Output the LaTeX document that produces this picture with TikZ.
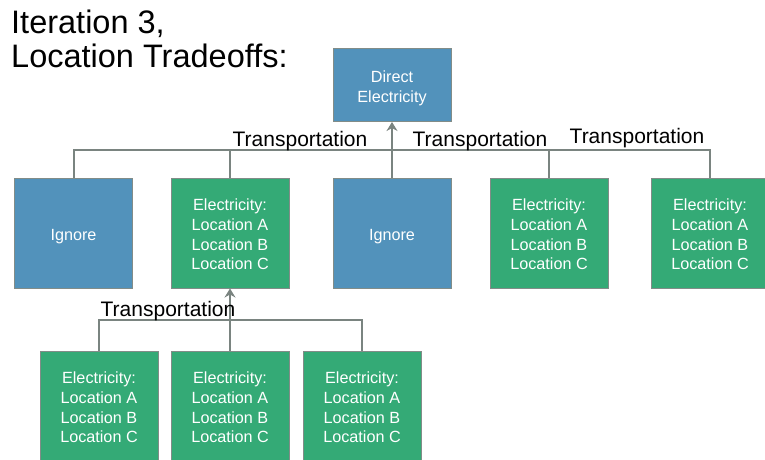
\documentclass[tikz,border=0pt]{standalone}
\usepackage{fontspec}
\setmainfont{Liberation Sans}
\usetikzlibrary{arrows.meta}
\definecolor{boxblue}{RGB}{82,146,187}
\definecolor{boxgreen}{RGB}{52,170,118}
\definecolor{edgegray}{RGB}{130,140,136}
\definecolor{linkgray}{RGB}{122,132,128}
\tikzset{
  box/.style={rectangle, draw=edgegray, line width=1pt, text=white,
    minimum width=118pt, inner sep=0pt, align=center,
    font=\fontsize{16.2}{19.7}\selectfont},
  bluebox/.style={box, fill=boxblue},
  greenbox/.style={box, fill=boxgreen, minimum height=110pt},
  link/.style={draw=linkgray, line width=2pt},
  uparrow/.style={link, -{Stealth[length=9pt,width=11pt,inset=3pt]}},
  translabel/.style={anchor=base, inner sep=0pt, font=\fontsize{21}{25}\selectfont},
  titletext/.style={anchor=base west, inner sep=0pt, font=\fontsize{32.5}{38}\selectfont}
}
% a tall strut on the first line sets the text slightly below the box centre
\newcommand{\topstrut}{\rule{0pt}{18pt}}
\newcommand{\liststrut}{\rule{0pt}{15pt}}
\newcommand{\locs}{\liststrut Electricity:\\Location A\\Location B\\Location C}
\begin{document}
\begin{tikzpicture}[x=1pt, y=-1pt]
\useasboundingbox (0,0) rectangle (765,459);
\fill[white] (0,0) rectangle (765,459);

% heading
\node[titletext] (t1) at (11,33) {Iteration 3,};
\node[titletext] (t2) at (11,67) {Location Tradeoffs:};

% root
\node[bluebox, minimum height=73pt] (root) at (392,85) {\topstrut Direct\\Electricity};

% second row
\node[bluebox, minimum height=110pt] (ign1) at (73.5,233) {\topstrut Ignore};
\node[greenbox] (e2) at (230,233) {\locs};
\node[bluebox, minimum height=110pt] (ign2) at (392,233) {\topstrut Ignore};
\node[greenbox] (e4) at (549,233) {\locs};
\node[greenbox] (e5) at (710,233) {\locs};

% third row
\node[greenbox] (f1) at (99,406) {\locs};
\node[greenbox] (f2) at (230,406) {\locs};
\node[greenbox] (f3) at (362,406) {\locs};

% upper bracket
\coordinate (busL) at (ign1.north |- 0,150);
\coordinate (busR) at (e5.north |- 0,150);
\draw[link] (ign1.north) -- (busL) -- (busR) -- (e5.north);
\draw[link] (e2.north) -- (e2.north |- busL);
\draw[link] (e4.north) -- (e4.north |- busL);
\draw[uparrow] (ign2.north) -- (root.south);

% lower bracket
\coordinate (bus2L) at (f1.north |- 0,320);
\coordinate (bus2R) at (f3.north |- 0,320);
\draw[link] (f1.north) -- (bus2L) -- (bus2R) -- (f3.north);
\draw[uparrow] (f2.north) -- (e2.south);

% labels
\node[translabel] (l1) at (300,146) {Transportation};
\node[translabel] (l2) at (480,146) {Transportation};
\node[translabel] (l3) at (637,143) {Transportation};
\node[translabel] (l4) at (168,316) {Transportation};
\end{tikzpicture}
\end{document}
